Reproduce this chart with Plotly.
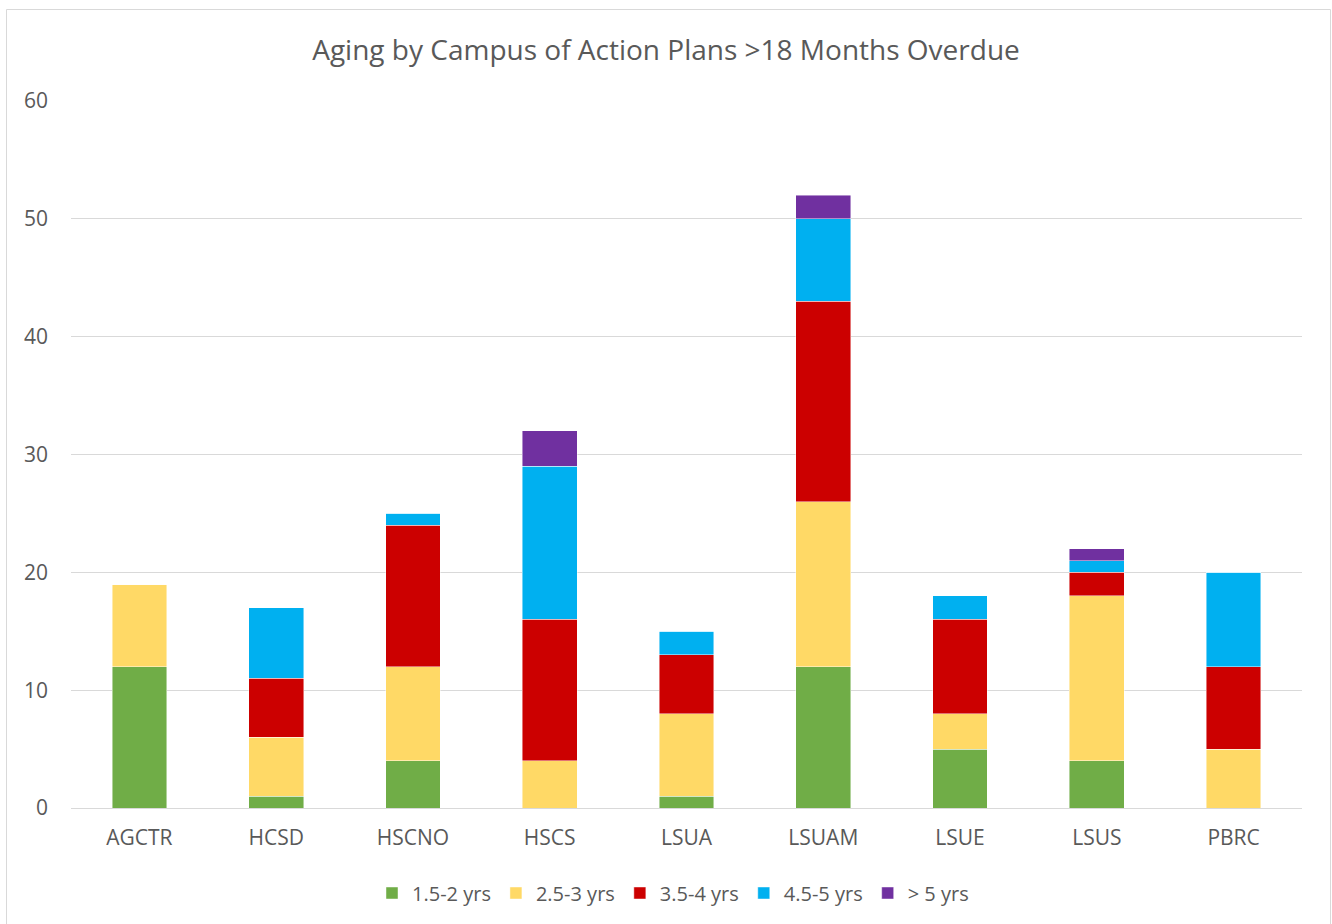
import plotly.graph_objects as go

campuses = ["AGCTR", "HCSD", "HSCNO", "HSCS", "LSUA", "LSUAM", "LSUE", "LSUS", "PBRC"]

yrs_1_5_2 = [12, 1, 4, 0, 1, 12, 5, 4, 0]
yrs_2_5_3 = [7, 5, 8, 4, 7, 14, 3, 14, 5]
yrs_3_5_4 = [0, 5, 12, 12, 5, 17, 8, 2, 7]
yrs_4_5_5 = [0, 6, 1, 13, 2, 7, 2, 1, 8]
yrs_over_5 = [0, 0, 0, 3, 0, 2, 0, 1, 0]

series = [
    ("1.5-2 yrs", yrs_1_5_2, "#70AD47"),
    ("2.5-3 yrs", yrs_2_5_3, "#FFD966"),
    ("3.5-4 yrs", yrs_3_5_4, "#CC0000"),
    ("4.5-5 yrs", yrs_4_5_5, "#00B0F0"),
    ("> 5 yrs", yrs_over_5, "#7030A0"),
]

font_family = "Open Sans, Liberation Sans, sans-serif"
text_color = "#595959"

fig = go.Figure()
for name, values, color in series:
    fig.add_trace(go.Bar(
        name=name,
        x=campuses,
        y=values,
        marker=dict(color=color, line=dict(color="rgba(255,255,255,0.6)", width=0.75)),
        width=0.4,
    ))

W, H = 1332, 924
L, R, T, B = 71, 30, 101, 116
pw, ph = W - L - R, H - T - B

def px_x(x):
    return (x - L) / pw

def px_y(y):
    return (H - B - y) / ph

fig.update_layout(
    width=W,
    height=H,
    barmode="stack",
    paper_bgcolor="white",
    plot_bgcolor="white",
    margin=dict(l=L, r=R, t=T, b=B),
    font=dict(family=font_family, color=text_color, size=21),
    title=dict(
        text="Aging by Campus of Action Plans >18 Months Overdue",
        x=0.5,
        xanchor="center",
        y=1 - 50 / H,
        yanchor="middle",
        font=dict(size=28, color=text_color, family=font_family),
    ),
    showlegend=True,
    legend=dict(
        orientation="h",
        x=px_x(673),
        xanchor="center",
        y=px_y(893),
        yanchor="middle",
        font=dict(size=20, color=text_color),
        traceorder="normal",
        itemwidth=30,
    ),
    xaxis=dict(
        showgrid=False,
        showline=False,
        ticks="",
        ticklabelstandoff=15,
        tickfont=dict(size=21, color=text_color),
    ),
    yaxis=dict(
        range=[0, 60],
        dtick=10,
        showgrid=True,
        gridcolor="#D9D9D9",
        gridwidth=1,
        zeroline=True,
        zerolinecolor="#D9D9D9",
        zerolinewidth=1,
        showline=False,
        ticks="",
        ticklabelstandoff=22,
        tickfont=dict(size=21, color=text_color),
    ),
    bargap=0.6,
)

# chart frame
fig.add_shape(
    type="rect",
    xref="paper",
    yref="paper",
    x0=px_x(6.5),
    x1=px_x(1330.5),
    y0=px_y(930),
    y1=px_y(9.5),
    line=dict(color="#D9D9D9", width=1),
    fillcolor="rgba(0,0,0,0)",
    layer="below",
)

fig.write_html("out.html")
